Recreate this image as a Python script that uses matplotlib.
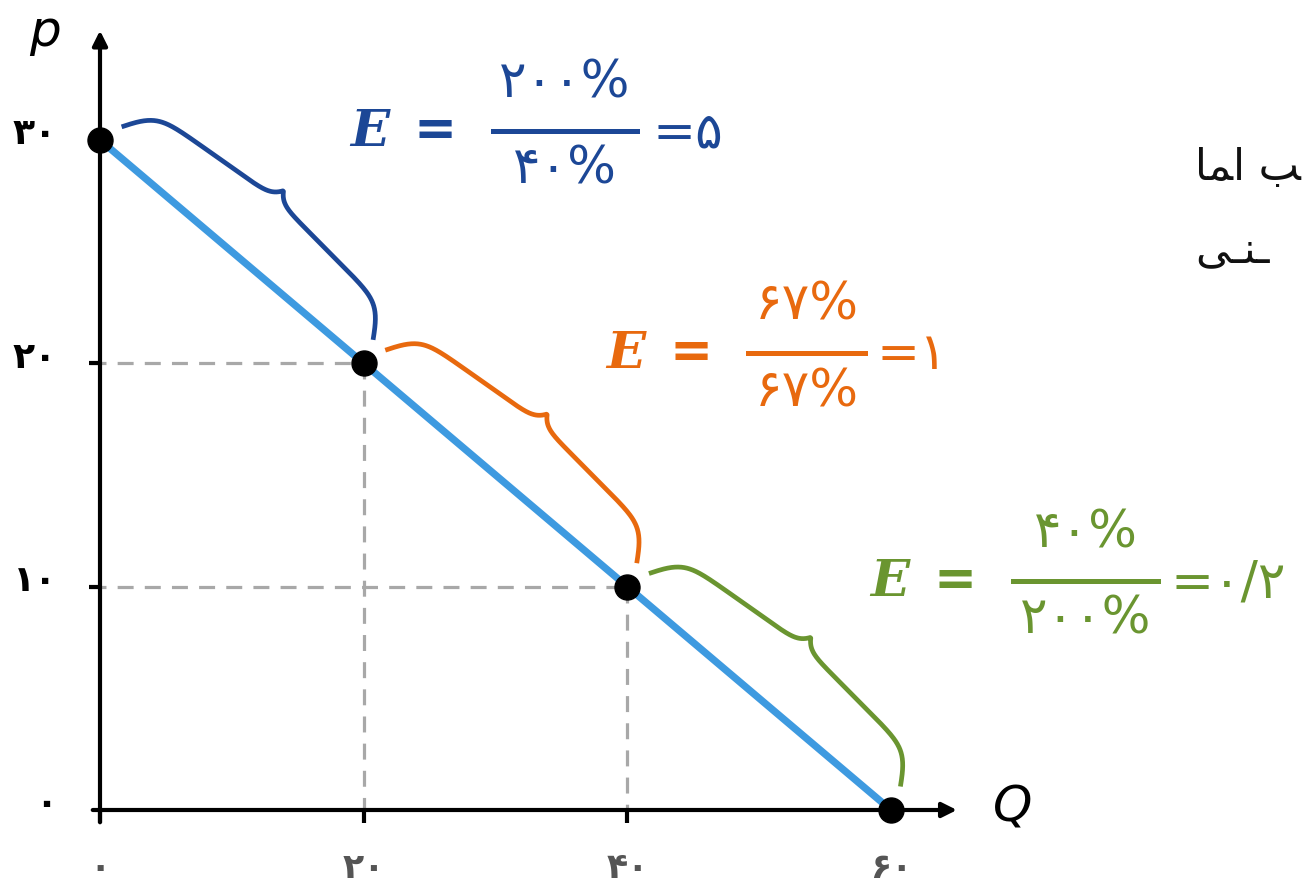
import numpy as np
import matplotlib
matplotlib.use("Agg")
import matplotlib.pyplot as plt
from matplotlib.lines import Line2D

plt.rcParams['font.family'] = ['DejaVu Sans']

# ---------------- data ----------------
Q = [0, 20, 40, 60]
P = [30, 20, 10, 0]
x_ticks = [0, 20, 40, 60]
x_tick_labels = ['۰', '۲۰', '۴۰', '۶۰']
y_ticks = [0, 10, 20, 30]
y_tick_labels = ['۰', '۱۰', '۲۰', '۳۰']
numerators = ['۲۰۰%', '۶۷%', '۴۰%']
denominators = ['۴۰%', '۶۷%', '۲۰۰%']
results = ['=۵', '=۱', '=۰/۲']
eq_colors = ['#1c4796', '#e8690e', '#6a9530']
side_text = ['ﺎﻤﺍ ﺐ', 'ﯽـﻨـ']

W, H = 1312, 885
fig = plt.figure(figsize=(W / 100, H / 100), dpi=100)
ax = fig.add_axes([0, 0, 1, 1])
ax.axis('off')
# pixel mapping: Q=0 -> x=100px, Q=60 -> 891px ; P=0 -> y=810px, P=30 -> 140px
sx = (891 - 100) / 60.0
sy = (810 - 140) / 30.0
ax.set_xlim(-100 / sx, (W - 100) / sx)
ax.set_ylim(-(H - 810) / sy, 810 / sy)


def fx(px):
    return px / W


def fy(py):
    return 1 - py / H


# dashed guide lines
guide = dict(color='#a8a8a8', lw=2.3, ls=(0, (5, 3.5)), zorder=1)
for q, p in zip(Q[1:3], P[1:3]):
    ax.plot([-0.75, q], [p, p], **guide)
    ax.plot([q, q], [p, 0], **guide)

# axes with arrows
ax.annotate('', xy=(65.0, 0), xytext=(-0.55, 0),
            arrowprops=dict(arrowstyle='-|>', lw=3, color='black',
                            mutation_scale=22, shrinkA=0, shrinkB=0), zorder=3)
ax.annotate('', xy=(0, 34.9), xytext=(0, -0.55),
            arrowprops=dict(arrowstyle='-|>', lw=3, color='black',
                            mutation_scale=22, shrinkA=0, shrinkB=0), zorder=3)
# tick marks
for t in x_ticks:
    ax.plot([t, t], [0, -0.6], color='black', lw=3, solid_capstyle='butt', zorder=3)
for t in y_ticks[1:3]:
    ax.plot([-0.8, 0], [t, t], color='black', lw=3, solid_capstyle='butt', zorder=3)

# tick labels
for t, lbl in zip(x_ticks, x_tick_labels):
    ax.annotate(lbl, xy=(t, 0), xytext=(0, -42), textcoords='offset points',
                ha='center', va='center', fontsize=25, fontweight='bold', color='#555555')
for t, lbl in zip(y_ticks, y_tick_labels):
    ax.annotate(lbl, xy=(0, t), xytext=(-31, 4), textcoords='offset points',
                ha='right', va='center', fontsize=26, fontweight='bold', color='black')

# axis labels
fig.text(fx(45), fy(32), 'p', fontsize=36, style='italic',
         ha='center', va='center')
fig.text(fx(1013), fy(808), 'Q', fontsize=36, style='italic',
         ha='center', va='center')

# demand line and points
ax.plot(Q, P, color='#3e9ae0', lw=5.2, solid_capstyle='butt', zorder=4)
ax.plot(Q, P, 'o', color='black', ms=18, zorder=6)

# braces
fig.canvas.draw()
inv = ax.transData.inverted()


def brace_shape(u):
    return 0.55 * np.tanh(u / 0.06) + 0.25 * (u / 0.5) + 0.2 * np.exp((u - 0.5) / 0.022)


for i in range(3):
    A = ax.transData.transform((Q[i], P[i]))
    B = ax.transData.transform((Q[i + 1], P[i + 1]))
    d = B - A
    u = d / np.linalg.norm(d)
    n = np.array([-u[1], u[0]])
    S = A + 8 * u + 24 * n
    E = B - 8 * u + 24 * n
    L = np.linalg.norm(E - S)
    s = np.linspace(0, 1, 400)
    uu = np.where(s <= 0.5, s, 1 - s)
    h = 56 * brace_shape(uu) / brace_shape(0.5)
    pts = S[None, :] + (s * L)[:, None] * u[None, :] + h[:, None] * n[None, :]
    dpts = inv.transform(pts)
    ax.plot(dpts[:, 0], dpts[:, 1], color=eq_colors[i], lw=3.4,
            solid_capstyle='butt', zorder=5)

# equations
eq_layout = [
    # E center x, center y, bar x0, bar x1, result left x
    (370, 133, 493, 637, 652),
    (626, 355, 748, 865, 877),
    (890, 583, 1013, 1158, 1170),
]
for (ex, ey, b0, b1, rx), num, den, res, c in zip(eq_layout, numerators, denominators,
                                                  results, eq_colors):
    fig.text(fx(ex), fy(ey), 'E', fontsize=37, family='DejaVu Serif', style='italic',
             fontweight='bold', color=c, ha='center', va='center')
    fig.text(fx(ex + 65), fy(ey - 2), '=', fontsize=37, fontweight='bold', color=c,
             ha='center', va='center')
    fig.add_artist(Line2D([fx(b0), fx(b1)], [fy(ey - 2), fy(ey - 2)],
                          transform=fig.transFigure, color=c, lw=3.6))
    xc = (b0 + b1) / 2
    fig.text(fx(xc), fy(ey - 50), num, fontsize=37, color=c,
             ha='center', va='center')
    fig.text(fx(xc), fy(ey + 37), den, fontsize=37, color=c,
             ha='center', va='center')
    fig.text(fx(rx), fy(ey), res, fontsize=37, color=c,
             ha='left', va='center')

# side text (clipped in the reference)
fig.text(fx(1195), fy(168), side_text[0], fontsize=31,
         color='#111111', ha='left', va='center')
fig.text(fx(1195), fy(250), side_text[1], fontsize=31,
         color='#111111', ha='left', va='center')

fig.savefig('out.png', dpi=100)
